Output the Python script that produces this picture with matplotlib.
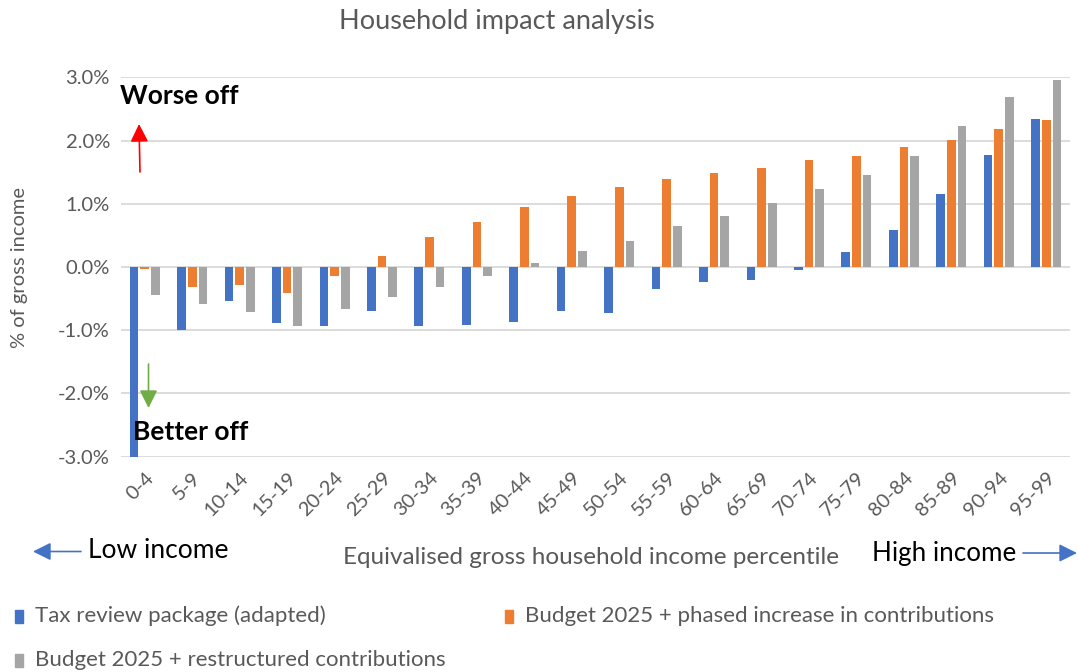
import matplotlib
matplotlib.use("Agg")
import matplotlib.pyplot as plt
import numpy as np
from matplotlib.ticker import FuncFormatter, MultipleLocator
from matplotlib.patches import Rectangle, FancyArrowPatch

categories = ["0-4", "5-9", "10-14", "15-19", "20-24", "25-29", "30-34", "35-39", "40-44", "45-49",
              "50-54", "55-59", "60-64", "65-69", "70-74", "75-79", "80-84", "85-89", "90-94", "95-99"]
tax_review = [-3.2, -0.99, -0.53, -0.89, -0.93, -0.70, -0.94, -0.91, -0.87, -0.69,
              -0.72, -0.35, -0.24, -0.21, -0.04, 0.24, 0.58, 1.15, 1.77, 2.34]
budget_phased = [-0.03, -0.31, -0.28, -0.41, -0.15, 0.17, 0.48, 0.71, 0.95, 1.12,
                 1.27, 1.39, 1.49, 1.57, 1.69, 1.76, 1.89, 2.01, 2.18, 2.33]
budget_restructured = [-0.45, -0.59, -0.71, -0.93, -0.67, -0.48, -0.32, -0.14, 0.07, 0.26,
                       0.41, 0.65, 0.81, 1.02, 1.23, 1.46, 1.75, 2.23, 2.69, 2.95]
series_names = ["Tax review package (adapted)",
                "Budget 2025 + phased increase in contributions",
                "Budget 2025 + restructured contributions"]
colors = ["#4472C4", "#ED7D31", "#A5A5A5"]

FONT = ["Lato", "DejaVu Sans"]
plt.rcParams['font.family'] = FONT
TXT = "#595959"

W, H = 1078, 672
fig = plt.figure(figsize=(W / 100, H / 100), dpi=100)

def fx(x):
    return x / W

def fy(y):
    return 1 - y / H

left, right, top, bottom = 121, 1070, 77.3, 456.7
ax = fig.add_axes([fx(left), fy(bottom), fx(right) - fx(left), fy(top) - fy(bottom)])

x = np.arange(len(categories))
bw = 0.183
step = 0.225
for i, (vals, c, name) in enumerate(zip([tax_review, budget_phased, budget_restructured], colors, series_names)):
    ax.bar(x + (i - 1) * step, vals, width=bw, color=c, label=name, zorder=3)

ax.set_xlim(-0.5, len(categories) - 0.5)
ax.set_ylim(-3.0, 3.0)
ax.yaxis.set_major_locator(MultipleLocator(1.0))
ax.yaxis.set_major_formatter(FuncFormatter(lambda v, p: f"{v:.1f}%"))
ax.grid(axis='y', color="#D9D9D9", linewidth=1.3, zorder=0)
for s in ax.spines.values():
    s.set_visible(False)
ax.tick_params(axis='both', length=0, colors=TXT)
ax.tick_params(axis='y', pad=8, labelsize=14.5)
ax.set_xticks(x)
ax.set_xticklabels(categories, rotation=45, ha='right', rotation_mode='anchor', fontsize=14.4, color=TXT)
ax.tick_params(axis='x', pad=9)
ax.set_ylabel("% of gross income", fontsize=14.5, color=TXT, va='center')
ax.yaxis.set_label_coords((20 - left) / (right - left), 0.5)

fig.text(fx(497), fy(22), "Household impact analysis", ha='center', va='center', fontsize=19.5, color=TXT)

fig.text(fx(120), fy(96), "Worse off", ha='left', va='center', fontsize=19, fontweight='bold', color='black')
fig.text(fx(133), fy(432), "Better off", ha='left', va='center', fontsize=19, fontweight='bold', color='black')

AST = '-|>,head_length=0.6,head_width=0.3'

def arrow(p0, p1, color):
    fig.add_artist(FancyArrowPatch((fx(p0[0]), fy(p0[1])), (fx(p1[0]), fy(p1[1])),
                   transform=fig.transFigure, arrowstyle=AST, mutation_scale=18,
                   color=color, lw=1.2, shrinkA=0, shrinkB=0))

arrow((140, 172), (139, 124), 'red')
arrow((148.5, 364), (148.5, 408), '#70AD47')
arrow((81, 551.5), (33, 551.5), '#4472C4')
arrow((1023, 553), (1077, 553), '#4472C4')

fig.text(fx(88), fy(551), "Low income", ha='left', va='center', fontsize=19, color='black')
fig.text(fx(1016), fy(553), "High income", ha='right', va='center', fontsize=18.7, color='black')
fig.text(fx(343), fy(558), "Equivalised gross household income percentile", ha='left', va='center',
         fontsize=17.5, color=TXT)

leg_pos = [(15, 616), (505, 616), (15, 660)]
for (lx, ly), c, name in zip(leg_pos, colors, series_names):
    fig.add_artist(Rectangle((fx(lx), fy(ly + 7)), 8 / W, 13 / H, transform=fig.transFigure, color=c))
    fig.text(fx(lx + 20), fy(ly), name, ha='left', va='center', fontsize=16, color=TXT)

fig.savefig("out.png", dpi=100)
